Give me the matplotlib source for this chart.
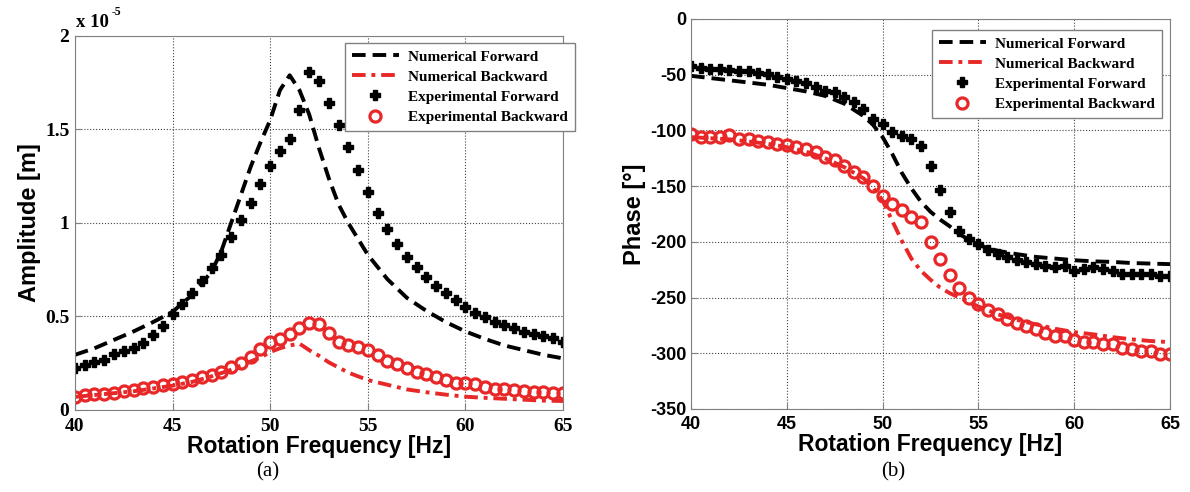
import matplotlib
matplotlib.use('Agg')
import matplotlib.pyplot as plt
import numpy as np

plt.rcParams['axes.unicode_minus'] = False

# ---- data: (a) amplitude, units of 1e-5 m ----
freq_exp = np.arange(40, 65.01, 0.5)   # measured points every 0.5 Hz

amp_exp_fwd = [0.223, 0.240, 0.255, 0.268, 0.297, 0.314, 0.334, 0.358, 0.400, 0.450,
               0.515, 0.565, 0.625, 0.690, 0.760, 0.830, 0.927, 1.016, 1.105, 1.208,
               1.305, 1.387, 1.447, 1.604, 1.806, 1.757, 1.643, 1.524, 1.405, 1.283,
               1.167, 1.055, 0.966, 0.890, 0.820, 0.766, 0.710, 0.663, 0.624, 0.588,
               0.552, 0.520, 0.499, 0.472, 0.455, 0.437, 0.419, 0.406, 0.396, 0.383,
               0.365]
amp_exp_bwd = [0.071, 0.080, 0.084, 0.086, 0.093, 0.102, 0.107, 0.116, 0.125, 0.134,
               0.139, 0.152, 0.160, 0.178, 0.187, 0.205, 0.228, 0.253, 0.285, 0.324,
               0.365, 0.378, 0.406, 0.437, 0.467, 0.460, 0.410, 0.365, 0.348, 0.339,
               0.320, 0.294, 0.264, 0.246, 0.223, 0.205, 0.191, 0.175, 0.160, 0.146,
               0.143, 0.137, 0.125, 0.111, 0.111, 0.107, 0.103, 0.098, 0.095, 0.093,
               0.093]

freq_num_fwd = [40, 41, 42, 43, 44, 45, 46, 47, 47.5, 48, 48.5, 49, 49.5, 50, 50.5, 51,
                51.5, 52, 52.5, 53, 53.5, 54, 55, 56, 57, 58, 59, 60, 61, 62, 63, 64, 65]
amp_num_fwd = [0.295, 0.330, 0.375, 0.420, 0.470, 0.525, 0.615, 0.740, 0.850, 1.000,
               1.150, 1.300, 1.430, 1.550, 1.710, 1.790, 1.710, 1.580, 1.400, 1.240,
               1.100, 1.000, 0.830, 0.700, 0.600, 0.530, 0.470, 0.420, 0.380, 0.345,
               0.320, 0.295, 0.276]

freq_num_bwd = [40, 41, 42, 43, 44, 45, 46, 47, 48, 49, 49.5, 50, 50.5, 51, 51.5, 52,
                52.5, 53, 54, 55, 56, 57, 58, 59, 60, 61, 62, 63, 64, 65]
amp_num_bwd = [0.070, 0.080, 0.090, 0.100, 0.115, 0.130, 0.150, 0.180, 0.215, 0.260,
               0.280, 0.310, 0.330, 0.345, 0.355, 0.320, 0.290, 0.255, 0.200, 0.160,
               0.135, 0.110, 0.095, 0.082, 0.071, 0.065, 0.060, 0.055, 0.050, 0.048]

# ---- data: (b) phase, degrees ----
ph_exp_fwd = [-42.4, -43.9, -44.8, -44.8, -45.4, -46.9, -46.9, -48.7, -49.3, -52.3,
              -53.8, -55.3, -57.7, -60.7, -64.2, -65.8, -69.6, -74.7, -80.7, -89.7,
              -94.2, -101.7, -104.7, -107.7, -113.7, -131.6, -153.5, -173.6, -190.0, -197.5,
              -201.8, -207.0, -211.0, -214.0, -216.0, -218.5, -220.0, -221.5, -222.4, -221.5,
              -226.0, -224.0, -223.0, -224.0, -226.6, -229.0, -229.0, -228.5, -229.0, -231.0,
              -231.0]
ph_exp_bwd = [-103.2, -106.2, -106.2, -106.2, -103.8, -107.7, -107.7, -109.2, -110.7, -112.2,
              -112.8, -115.2, -116.6, -119.7, -124.2, -126.5, -131.6, -137.6, -142.1, -149.6,
              -158.6, -166.0, -171.4, -178.0, -182.6, -200.0, -215.5, -229.8, -241.0, -250.0,
              -256.0, -261.0, -265.0, -269.4, -272.4, -275.4, -278.3, -281.4, -284.4, -284.4,
              -288.0, -289.5, -289.5, -291.3, -292.0, -295.0, -296.3, -297.8, -298.3, -300.3,
              -300.8]

freq_ph_num = [40, 41, 42, 43, 44, 45, 46, 47, 48, 49, 49.5, 50, 50.5, 51, 51.5, 52,
               52.5, 53, 53.5, 54, 55, 56, 57, 58, 59, 60, 61, 62, 63, 64, 65]
ph_num_fwd = [-51, -53, -55, -57, -59, -62, -65, -69, -76, -87, -95, -106, -121, -138,
              -152, -164, -173, -180, -186, -193, -203, -208, -211, -213.5, -215, -216.5,
              -217.5, -218, -219, -219.5, -220]
ph_num_bwd = [-106, -107, -108, -110, -112, -115, -119, -125, -133, -143, -151, -163,
              -181, -199, -215, -226, -234, -241, -246, -250, -258, -265, -270, -274,
              -278, -281, -283, -285.5, -287.5, -289, -290]

labels = ['Numerical Forward', 'Numerical Backward', 'Experimental Forward',
          'Experimental Backward']

RED = '#e82828'
GRAY = '#808080'
serif = ['Liberation Serif', 'DejaVu Serif']
sans = ['Liberation Sans', 'DejaVu Sans']


def draw(ax, fx, yf, fb, yb, ef, eb):
    ax.plot(fx, yf, color='black', lw=2.8, ls=(0, (3.5, 1.8)), label=labels[0])
    ax.plot(fb, yb, color=RED, lw=2.8, ls=(0, (3.5, 1.5, 1.0, 1.5)), label=labels[1])
    ax.plot(freq_exp, ef, ls='none', marker='P', ms=7, color='black', mec='black',
            label=labels[2])
    ax.plot(freq_exp, eb, ls='none', marker='o', ms=8, mfc='none', mec=RED, mew=2.3,
            label=labels[3])
    ax.set_xlim(40, 65)
    ax.set_xticks([40, 45, 50, 55, 60, 65])
    ax.grid(True, ls=':', color='#444444', lw=0.8)
    for s in ax.spines.values():
        s.set_color(GRAY)
    ax.tick_params(direction='in', length=4, color=GRAY)


def add_legend(ax, anchor):
    leg = ax.legend(loc='upper right', bbox_to_anchor=anchor,
                    bbox_transform=fig.transFigure, borderaxespad=0,
                    prop={'family': serif, 'weight': 'bold', 'size': 11},
                    handlelength=3.1, handletextpad=0.6, labelspacing=0.42,
                    borderpad=0.45, fancybox=False, framealpha=1)
    leg.get_frame().set_edgecolor(GRAY)
    leg.get_frame().set_linewidth(1.0)


fig = plt.figure(figsize=(11.9, 4.92), dpi=100)

# (a) amplitude
ax1 = fig.add_axes([0.0630, 0.1667, 0.4101, 0.7602])
draw(ax1, freq_num_fwd, amp_num_fwd, freq_num_bwd, amp_num_bwd, amp_exp_fwd, amp_exp_bwd)
ax1.set_ylim(0, 2)
ax1.set_yticks([0, 0.5, 1, 1.5, 2])
ax1.set_yticklabels(['0', '0.5', '1', '1.5', '2'])
for t in ax1.get_xticklabels() + ax1.get_yticklabels():
    t.set_fontfamily(serif)
    t.set_fontweight('bold')
    t.set_fontsize(14)
ax1.tick_params(axis='x', pad=6)
ax1.tick_params(axis='y', pad=4)
ax1.set_xlabel('Rotation Frequency [Hz]', fontfamily=sans, fontweight='bold',
               fontsize=16.5, labelpad=0)
ax1.set_ylabel('Amplitude [m]', fontfamily=sans, fontweight='bold', fontsize=17,
               labelpad=3)
fig.text(0.0640, 0.937, 'x 10', fontfamily=serif, fontweight='bold', fontsize=13.5,
         ha='left', va='bottom')
fig.text(0.0935, 0.963, '-5', fontfamily=serif, fontweight='bold', fontsize=8.5,
         ha='left', va='bottom')
add_legend(ax1, (575 / 1190, 1 - 43 / 492))

# (b) phase
ax2 = fig.add_axes([0.5807, 0.1687, 0.4025, 0.7927])
draw(ax2, freq_ph_num, ph_num_fwd, freq_ph_num, ph_num_bwd, ph_exp_fwd, ph_exp_bwd)
ax2.set_ylim(-350, 0)
ax2.set_yticks(np.arange(-350, 1, 50))
for t in ax2.get_xticklabels() + ax2.get_yticklabels():
    t.set_fontfamily(sans)
    t.set_fontweight('bold')
    t.set_fontsize(13)
ax2.tick_params(axis='x', pad=5)
ax2.tick_params(axis='y', pad=3)
ax2.set_xlabel('Rotation Frequency [Hz]', fontfamily=sans, fontweight='bold',
               fontsize=16.5, labelpad=0)
ax2.set_ylabel('Phase [°]', fontfamily=sans, fontweight='bold', fontsize=17,
               labelpad=3)
add_legend(ax2, (1162 / 1190, 1 - 30 / 492))

fig.text(268 / 1190, 1 - 472 / 492, '(a)', fontfamily=serif, fontsize=15,
         ha='center', va='center')
fig.text(893 / 1190, 1 - 472 / 492, '(b)', fontfamily=serif, fontsize=15,
         ha='center', va='center')

fig.savefig('out.png', dpi=100)
